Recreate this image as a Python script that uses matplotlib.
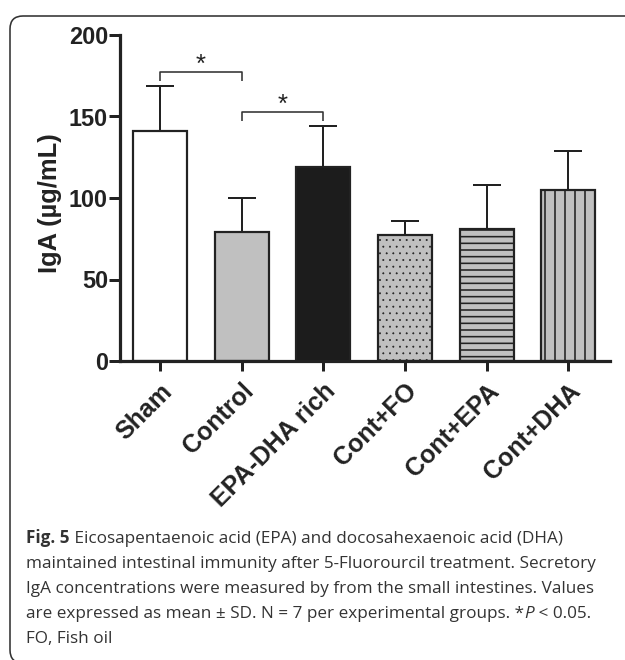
# IgA bar chart with significance brackets and figure caption
import numpy as np
import matplotlib
matplotlib.use('Agg')
import matplotlib.pyplot as plt
from matplotlib.patches import FancyBboxPatch
from matplotlib.transforms import IdentityTransform

# ── data ─────────────────────────────────────────────
groups = ['Sham', 'Control', 'EPA-DHA rich', 'Cont+FO', 'Cont+EPA', 'Cont+DHA']
iga_mean = [141, 79, 119, 77, 81, 105]
iga_sd = [28, 21, 25, 9, 27, 24]
y_ticks = [0, 50, 100, 150, 200]

sig_pairs = [(0, 1), (1, 2)]
sig_level = [177, 152.5]

fills = ['white', '#c0c0c0', '#1c1c1c', '#c0c0c0', '#c0c0c0', '#c0c0c0']
hatches = [None, None, None, '...', '---', '||']

# caption lines as (text, weight, style) pieces
caption = [
    [('Fig. 5', 'bold', 'normal'),
     (' Eicosapentaenoic acid (EPA) and docosahexaenoic acid (DHA)', 'normal', 'normal')],
    [('maintained intestinal immunity after 5-Fluorourcil treatment. Secretory', 'normal', 'normal')],
    [('IgA concentrations were measured by from the small intestines. Values', 'normal', 'normal')],
    [('are expressed as mean \u00b1 SD. N = 7 per experimental groups. *', 'normal', 'normal'),
     ('P', 'normal', 'italic'), (' < 0.05.', 'normal', 'normal')],
    [('FO, Fish oil', 'normal', 'normal')],
]

# ── setup ────────────────────────────────────────────
DPI = 120
W, H = 625, 660
def pt(px):
    return px * 72 / DPI

plt.rcParams['font.family'] = ['Liberation Sans', 'DejaVu Sans']
plt.rcParams['hatch.linewidth'] = pt(1.6)

ink = '#222222'
fig = plt.figure(figsize=(W / DPI, H / DPI), dpi=DPI)
ax = fig.add_axes([120 / W, 1 - 361 / H, 490 / W, 326 / H])

x = np.arange(len(groups))
ax.errorbar(x, iga_mean, yerr=[np.zeros(len(groups)), iga_sd], fmt='none',
            ecolor=ink, elinewidth=pt(2), capsize=pt(14), capthick=pt(2), zorder=1)
bars = ax.bar(x, iga_mean, width=0.66, color=fills, edgecolor=ink,
              linewidth=pt(2.2), zorder=2)
for b, h in zip(bars, hatches):
    if h:
        b.set_hatch(h)
        if h.startswith('.') and hasattr(b, 'set_hatch_linewidth'):
            b.set_hatch_linewidth(pt(0.6))

# significance brackets
for (a, b), lvl in zip(sig_pairs, sig_level):
    ax.plot([a, a, b, b], [lvl - 5.5, lvl, lvl, lvl - 5.5], color='#333333',
            lw=pt(1.6), solid_capstyle='butt', clip_on=False)
    ax.text((a + b) / 2, lvl + 0.5, '*', ha='center', va='baseline',
            fontsize=pt(26), color=ink)

ax.set_xlim(-0.49, 5.51)
ax.set_ylim(0, 200)
ax.set_yticks(y_ticks)
ax.set_xticks(x)
ax.set_xticklabels(groups, rotation=45, ha='right', rotation_mode='anchor',
                   fontsize=pt(25), fontweight='bold')
ax.tick_params(axis='y', labelsize=pt(23.5), width=pt(3), length=pt(11), pad=pt(1))
ax.tick_params(axis='x', width=pt(3), length=pt(10), pad=pt(8))
for lab in ax.get_yticklabels():
    lab.set_fontweight('bold')
for s in ['top', 'right']:
    ax.spines[s].set_visible(False)
for s in ['left', 'bottom']:
    ax.spines[s].set_linewidth(pt(3.2))
    ax.spines[s].set_color(ink)
ax.tick_params(colors=ink)

ax.set_ylabel('IgA (\u00b5g/mL)', fontsize=pt(25.5), fontweight='bold', color=ink)
ax.yaxis.set_label_coords(-0.118, 0.485)

# ── frame and caption ────────────────────────────────
frame = FancyBboxPatch((10, -3), 720, H - 13, boxstyle='round,pad=0,rounding_size=13',
                       transform=IdentityTransform(), fill=False,
                       edgecolor='#333333', linewidth=pt(1.6))
fig.add_artist(frame)

# fit caption size so the second line spans its width in the reference
renderer = fig.canvas.get_renderer()
probe = fig.text(0, 0, caption[1][0][0], family='Open Sans', fontsize=10)
wpx = probe.get_window_extent(renderer).width
probe.remove()
cap_size = 10 * 563 / wpx

base = [543, 568, 593, 618, 643]
for pieces, yb in zip(caption, base):
    xpos = 26
    for txt, wt, st in pieces:
        t = fig.text(xpos / W, 1 - yb / H, txt, family='Open Sans', fontsize=cap_size,
                     weight=wt, style=st, color='#333333', va='baseline', ha='left')
        xpos += t.get_window_extent(renderer).width

fig.savefig('out.png', dpi=DPI)
